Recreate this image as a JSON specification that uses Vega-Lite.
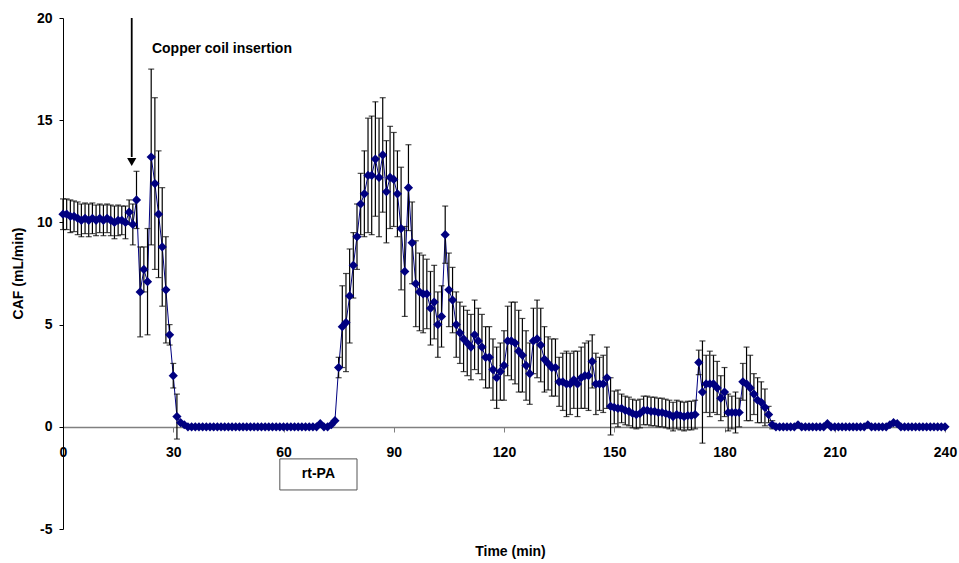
{
  "$schema": "https://vega.github.io/schema/vega-lite/v6.json",
  "width": 882,
  "height": 511,
  "autosize": "none",
  "padding": {"left": 63, "top": 18, "right": 14, "bottom": 34},
  "background": "white",
  "config": {
    "view": {"stroke": null},
    "font": "Liberation Sans",
    "axisX": {"offset": -102, "grid": false,
      "domainColor": "#808080", "domainWidth": 1.5, "tickColor": "#808080", "tickSize": 5, "tickWidth": 1,
      "labelFont": "Liberation Sans", "labelFontWeight": "bold", "labelFontSize": 14, "labelColor": "black", "labelPadding": 13, "labelFlush": false,
      "titleFont": "Liberation Sans", "titleFontWeight": "bold", "titleFontSize": 14, "titleColor": "black", "titleX": 447, "titleY": 124, "titleBaseline": "middle", "titleAlign": "center"},
    "axisY": {"grid": false,
      "domainColor": "black", "domainWidth": 1, "tickColor": "black", "tickSize": 4, "tickWidth": 1,
      "labelFont": "Liberation Sans", "labelFontWeight": "bold", "labelFontSize": 14, "labelColor": "black", "labelPadding": 7,
      "titleFont": "Liberation Sans", "titleFontWeight": "bold", "titleFontSize": 14, "titleColor": "black", "titleX": -45, "titleY": 255, "titleAngle": -90, "titleBaseline": "middle", "titleAlign": "center"}
  },
  "datasets": {
    "series": [
      {"t":0,"caf":10.4,"sd":0.75},{"t":1,"caf":10.4,"sd":0.75},{"t":2,"caf":10.3,"sd":0.8},{"t":3,"caf":10.3,"sd":0.75},{"t":4,"caf":10.2,"sd":0.8},
      {"t":5,"caf":10.1,"sd":0.8},{"t":6,"caf":10.2,"sd":0.75},{"t":7,"caf":10.1,"sd":0.8},{"t":8,"caf":10.2,"sd":0.75},{"t":9,"caf":10.1,"sd":0.75},
      {"t":10,"caf":10.2,"sd":0.7},{"t":11,"caf":10.1,"sd":0.75},{"t":12,"caf":10.2,"sd":0.7},{"t":13,"caf":10.1,"sd":0.75},{"t":14,"caf":10.0,"sd":0.8},
      {"t":15,"caf":10.1,"sd":0.75},{"t":16,"caf":10.1,"sd":0.7},{"t":17,"caf":10.0,"sd":0.8},{"t":18,"caf":10.5,"sd":0.6},{"t":19,"caf":9.9,"sd":1.0},
      {"t":20,"caf":11.1,"sd":1.4},{"t":21,"caf":6.6,"sd":2.2},{"t":22,"caf":7.7,"sd":1.1},{"t":23,"caf":7.1,"sd":2.6},{"t":24,"caf":13.2,"sd":4.3},
      {"t":25,"caf":11.9,"sd":4.2},{"t":26,"caf":10.4,"sd":3.1},{"t":27,"caf":8.8,"sd":2.9},{"t":28,"caf":6.7,"sd":2.6},{"t":29,"caf":4.5,"sd":0.5},
      {"t":30,"caf":2.5,"sd":0.6},{"t":31,"caf":0.5,"sd":1.1},{"t":32,"caf":0.2,"sd":0},{"t":33,"caf":0.1,"sd":0},{"t":34,"caf":0,"sd":0},
      {"t":35,"caf":0,"sd":0},{"t":36,"caf":0,"sd":0},{"t":37,"caf":0,"sd":0},{"t":38,"caf":0,"sd":0},{"t":39,"caf":0,"sd":0},
      {"t":40,"caf":0,"sd":0},{"t":41,"caf":0,"sd":0},{"t":42,"caf":0,"sd":0},{"t":43,"caf":0,"sd":0},{"t":44,"caf":0,"sd":0},
      {"t":45,"caf":0,"sd":0},{"t":46,"caf":0,"sd":0},{"t":47,"caf":0,"sd":0},{"t":48,"caf":0,"sd":0},{"t":49,"caf":0,"sd":0},
      {"t":50,"caf":0,"sd":0},{"t":51,"caf":0,"sd":0},{"t":52,"caf":0,"sd":0},{"t":53,"caf":0,"sd":0},{"t":54,"caf":0,"sd":0},
      {"t":55,"caf":0,"sd":0},{"t":56,"caf":0,"sd":0},{"t":57,"caf":0,"sd":0},{"t":58,"caf":0,"sd":0},{"t":59,"caf":0,"sd":0},
      {"t":60,"caf":0,"sd":0},{"t":61,"caf":0,"sd":0},{"t":62,"caf":0,"sd":0},{"t":63,"caf":0,"sd":0},{"t":64,"caf":0,"sd":0},
      {"t":65,"caf":0,"sd":0},{"t":66,"caf":0,"sd":0},{"t":67,"caf":0,"sd":0},{"t":68,"caf":0,"sd":0},{"t":69,"caf":0,"sd":0},
      {"t":70,"caf":0.15,"sd":0},{"t":71,"caf":0,"sd":0},{"t":72,"caf":0,"sd":0},{"t":73,"caf":0.1,"sd":0},{"t":74,"caf":0.3,"sd":0},
      {"t":75,"caf":2.9,"sd":0.5},{"t":76,"caf":4.9,"sd":2.0},{"t":77,"caf":5.1,"sd":2.4},{"t":78,"caf":6.4,"sd":2.3},{"t":79,"caf":7.9,"sd":1.6},
      {"t":80,"caf":9.3,"sd":1.6},{"t":81,"caf":10.9,"sd":1.5},{"t":82,"caf":11.4,"sd":2.1},{"t":83,"caf":12.3,"sd":2.8},{"t":84,"caf":12.3,"sd":2.9},
      {"t":85,"caf":13.1,"sd":2.8},{"t":86,"caf":12.2,"sd":2.9},{"t":87,"caf":13.3,"sd":2.8},{"t":88,"caf":11.5,"sd":2.5},{"t":89,"caf":12.2,"sd":2.5},
      {"t":90,"caf":12.1,"sd":2.3},{"t":91,"caf":11.4,"sd":2.1},{"t":92,"caf":9.7,"sd":3.0},{"t":93,"caf":7.6,"sd":2.2},{"t":94,"caf":11.7,"sd":2.1},
      {"t":95,"caf":9.0,"sd":2.0},{"t":96,"caf":7.0,"sd":2.1},{"t":97,"caf":6.6,"sd":1.9},{"t":98,"caf":6.5,"sd":1.9},{"t":99,"caf":6.5,"sd":1.7},
      {"t":100,"caf":5.8,"sd":1.8},{"t":101,"caf":6.1,"sd":1.8},{"t":102,"caf":5.0,"sd":1.6},{"t":103,"caf":5.4,"sd":1.5},{"t":104,"caf":9.4,"sd":1.4},
      {"t":105,"caf":6.7,"sd":1.8},{"t":106,"caf":6.2,"sd":1.6},{"t":107,"caf":5.0,"sd":1.6},{"t":108,"caf":4.6,"sd":1.5},{"t":109,"caf":4.3,"sd":1.6},
      {"t":110,"caf":4.1,"sd":1.6},{"t":111,"caf":3.9,"sd":1.6},{"t":112,"caf":4.5,"sd":1.7},{"t":113,"caf":4.2,"sd":1.6},{"t":114,"caf":3.9,"sd":1.6},
      {"t":115,"caf":3.4,"sd":1.5},{"t":116,"caf":3.4,"sd":1.5},{"t":117,"caf":2.8,"sd":1.5},{"t":118,"caf":2.4,"sd":1.5},{"t":119,"caf":2.7,"sd":1.4},
      {"t":120,"caf":3.0,"sd":1.7},{"t":121,"caf":4.2,"sd":1.7},{"t":122,"caf":4.2,"sd":1.9},{"t":123,"caf":4.1,"sd":2.0},{"t":124,"caf":3.7,"sd":2.0},
      {"t":125,"caf":3.5,"sd":1.8},{"t":126,"caf":3.0,"sd":1.7},{"t":127,"caf":2.6,"sd":1.5},{"t":128,"caf":4.2,"sd":1.6},{"t":129,"caf":4.3,"sd":1.9},
      {"t":130,"caf":4.0,"sd":1.8},{"t":131,"caf":3.3,"sd":1.6},{"t":132,"caf":3.1,"sd":1.3},{"t":133,"caf":2.9,"sd":1.4},{"t":134,"caf":2.9,"sd":1.4},
      {"t":135,"caf":2.2,"sd":1.2},{"t":136,"caf":2.2,"sd":1.4},{"t":137,"caf":2.1,"sd":1.6},{"t":138,"caf":2.1,"sd":1.5},{"t":139,"caf":2.3,"sd":1.4},
      {"t":140,"caf":2.1,"sd":1.6},{"t":141,"caf":2.4,"sd":1.5},{"t":142,"caf":2.5,"sd":1.6},{"t":143,"caf":2.5,"sd":1.7},{"t":144,"caf":3.2,"sd":1.3},
      {"t":145,"caf":2.1,"sd":1.5},{"t":146,"caf":2.1,"sd":1.3},{"t":147,"caf":2.1,"sd":1.4},{"t":148,"caf":2.4,"sd":1.5},{"t":149,"caf":1.0,"sd":1.4},
      {"t":150,"caf":0.95,"sd":0.8},{"t":151,"caf":0.9,"sd":0.9},{"t":152,"caf":0.9,"sd":0.7},{"t":153,"caf":0.8,"sd":0.7},{"t":154,"caf":0.75,"sd":0.7},
      {"t":155,"caf":0.65,"sd":0.7},{"t":156,"caf":0.6,"sd":0.7},{"t":157,"caf":0.65,"sd":0.7},{"t":158,"caf":0.8,"sd":0.7},{"t":159,"caf":0.8,"sd":0.7},
      {"t":160,"caf":0.75,"sd":0.7},{"t":161,"caf":0.75,"sd":0.7},{"t":162,"caf":0.7,"sd":0.7},{"t":163,"caf":0.7,"sd":0.7},{"t":164,"caf":0.65,"sd":0.7},
      {"t":165,"caf":0.6,"sd":0.7},{"t":166,"caf":0.5,"sd":0.7},{"t":167,"caf":0.6,"sd":0.7},{"t":168,"caf":0.55,"sd":0.7},{"t":169,"caf":0.5,"sd":0.7},
      {"t":170,"caf":0.55,"sd":0.7},{"t":171,"caf":0.55,"sd":0.7},{"t":172,"caf":0.6,"sd":0.7},{"t":173,"caf":3.15,"sd":0.6},{"t":174,"caf":1.7,"sd":2.5},
      {"t":175,"caf":2.1,"sd":1.4},{"t":176,"caf":2.1,"sd":1.6},{"t":177,"caf":2.1,"sd":1.4},{"t":178,"caf":1.9,"sd":1.3},{"t":179,"caf":1.4,"sd":1.1},
      {"t":180,"caf":1.7,"sd":1.2},{"t":181,"caf":0.7,"sd":0.9},{"t":182,"caf":0.7,"sd":0.8},{"t":183,"caf":0.7,"sd":1.0},{"t":184,"caf":0.7,"sd":0.7},
      {"t":185,"caf":2.2,"sd":0.9},{"t":186,"caf":2.1,"sd":1.8},{"t":187,"caf":1.9,"sd":1.6},{"t":188,"caf":1.6,"sd":1.0},{"t":189,"caf":1.3,"sd":1.1},
      {"t":190,"caf":1.2,"sd":1.0},{"t":191,"caf":0.95,"sd":0.9},{"t":192,"caf":0.6,"sd":0.4},{"t":193,"caf":0.1,"sd":0.2},{"t":194,"caf":0,"sd":0},
      {"t":195,"caf":0,"sd":0},{"t":196,"caf":0,"sd":0},{"t":197,"caf":0,"sd":0},{"t":198,"caf":0,"sd":0},{"t":199,"caf":0,"sd":0},
      {"t":200,"caf":0.1,"sd":0},{"t":201,"caf":0,"sd":0},{"t":202,"caf":0,"sd":0},{"t":203,"caf":0,"sd":0},{"t":204,"caf":0,"sd":0},
      {"t":205,"caf":0,"sd":0},{"t":206,"caf":0,"sd":0},{"t":207,"caf":0,"sd":0},{"t":208,"caf":0.15,"sd":0},{"t":209,"caf":0,"sd":0},
      {"t":210,"caf":0,"sd":0},{"t":211,"caf":0,"sd":0},{"t":212,"caf":0,"sd":0},{"t":213,"caf":0,"sd":0},{"t":214,"caf":0,"sd":0},
      {"t":215,"caf":0,"sd":0},{"t":216,"caf":0,"sd":0},{"t":217,"caf":0,"sd":0},{"t":218,"caf":0,"sd":0},{"t":219,"caf":0.1,"sd":0},
      {"t":220,"caf":0,"sd":0},{"t":221,"caf":0,"sd":0},{"t":222,"caf":0,"sd":0},{"t":223,"caf":0,"sd":0},{"t":224,"caf":0,"sd":0},
      {"t":225,"caf":0.1,"sd":0},{"t":226,"caf":0.2,"sd":0},{"t":227,"caf":0.15,"sd":0},{"t":228,"caf":0,"sd":0},{"t":229,"caf":0,"sd":0},
      {"t":230,"caf":0,"sd":0},{"t":231,"caf":0,"sd":0},{"t":232,"caf":0,"sd":0},{"t":233,"caf":0,"sd":0},{"t":234,"caf":0,"sd":0},
      {"t":235,"caf":0,"sd":0},{"t":236,"caf":0,"sd":0},{"t":237,"caf":0,"sd":0},{"t":238,"caf":0,"sd":0},{"t":239,"caf":0,"sd":0},
      {"t":240,"caf":0,"sd":0}
    ],
    "arrow": [{"t": 18.7, "top": 20, "bottom": 13.2, "head": 12.95}],
    "label": [{"t": 24.2, "v": 18.5, "text": "Copper coil insertion"}],
    "box": [{"x1": 59, "x2": 80, "y1": -1.57, "y2": -3.09, "xc": 69.5, "yc": -2.33, "text": "rt-PA"}]
  },
  "layer": [
    {
      "data": {"name": "series"},
      "mark": {"type": "line", "color": "#000080", "strokeWidth": 1},
      "encoding": {
        "x": {"field": "t", "type": "quantitative", "title": "Time (min)", "scale": {"domain": [0, 240], "nice": false, "zero": false},
          "axis": {"values": [0, 30, 60, 90, 120, 150, 180, 210, 240]}},
        "y": {"field": "caf", "type": "quantitative", "title": "CAF (mL/min)", "scale": {"domain": [-5, 20], "nice": false},
          "axis": {"values": [-5, 0, 5, 10, 15, 20], "labelExpr": "'' + datum.value"}}
      }
    },
    {
      "data": {"name": "series"},
      "transform": [{"filter": "datum.sd > 0"}],
      "mark": {"type": "errorbar", "color": "black", "thickness": 1.2, "ticks": {"size": 6, "color": "black", "thickness": 1.2}},
      "encoding": {
        "x": {"field": "t", "type": "quantitative", "title": "Time (min)"},
        "y": {"field": "caf", "type": "quantitative", "title": "CAF (mL/min)"},
        "yError": {"field": "sd"}
      }
    },
    {
      "data": {"name": "series"},
      "mark": {"type": "point", "shape": "diamond", "filled": true, "color": "#000080", "opacity": 1, "size": 85},
      "encoding": {
        "x": {"field": "t", "type": "quantitative", "title": "Time (min)"},
        "y": {"field": "caf", "type": "quantitative", "title": "CAF (mL/min)"}
      }
    },
    {
      "data": {"name": "arrow"},
      "mark": {"type": "rule", "color": "black", "strokeWidth": 1.8},
      "encoding": {
        "x": {"field": "t", "type": "quantitative", "title": "Time (min)"},
        "y": {"field": "top", "type": "quantitative", "title": "CAF (mL/min)"},
        "y2": {"field": "bottom"}
      }
    },
    {
      "data": {"name": "arrow"},
      "mark": {"type": "point", "shape": "triangle-down", "filled": true, "color": "black", "opacity": 1, "size": 85},
      "encoding": {
        "x": {"field": "t", "type": "quantitative", "title": "Time (min)"},
        "y": {"field": "head", "type": "quantitative", "title": "CAF (mL/min)"}
      }
    },
    {
      "data": {"name": "label"},
      "mark": {"type": "text", "align": "left", "baseline": "middle", "font": "Liberation Sans", "fontWeight": "bold", "fontSize": 14, "color": "black"},
      "encoding": {
        "x": {"field": "t", "type": "quantitative", "title": "Time (min)"},
        "y": {"field": "v", "type": "quantitative", "title": "CAF (mL/min)"},
        "text": {"field": "text"}
      }
    },
    {
      "data": {"name": "box"},
      "mark": {"type": "rect", "fill": "white", "stroke": "#555555", "strokeWidth": 1},
      "encoding": {
        "x": {"field": "x1", "type": "quantitative", "title": "Time (min)"},
        "x2": {"field": "x2"},
        "y": {"field": "y1", "type": "quantitative", "title": "CAF (mL/min)"},
        "y2": {"field": "y2"}
      }
    },
    {
      "data": {"name": "box"},
      "mark": {"type": "text", "align": "center", "baseline": "middle", "font": "Liberation Sans", "fontWeight": "bold", "fontSize": 14, "color": "black"},
      "encoding": {
        "x": {"field": "xc", "type": "quantitative", "title": "Time (min)"},
        "y": {"field": "yc", "type": "quantitative", "title": "CAF (mL/min)"},
        "text": {"field": "text"}
      }
    }
  ]
}
